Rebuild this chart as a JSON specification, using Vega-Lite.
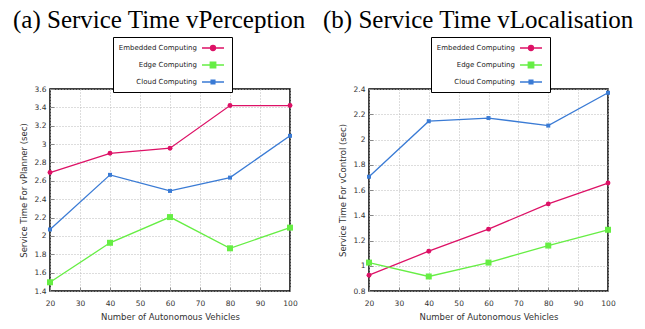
{
  "$schema": "https://vega.github.io/schema/vega-lite/v6.json",
  "padding": {"left": 12, "top": 6, "right": 4, "bottom": 2},
  "background": "white",
  "datasets": {
    "perception": [
      {"vehicles": 20, "series": "Embedded Computing", "time": 2.69},
      {"vehicles": 40, "series": "Embedded Computing", "time": 2.90},
      {"vehicles": 60, "series": "Embedded Computing", "time": 2.955},
      {"vehicles": 80, "series": "Embedded Computing", "time": 3.42},
      {"vehicles": 100, "series": "Embedded Computing", "time": 3.42},
      {"vehicles": 20, "series": "Edge Computing", "time": 1.495},
      {"vehicles": 40, "series": "Edge Computing", "time": 1.925},
      {"vehicles": 60, "series": "Edge Computing", "time": 2.205},
      {"vehicles": 80, "series": "Edge Computing", "time": 1.865},
      {"vehicles": 100, "series": "Edge Computing", "time": 2.09},
      {"vehicles": 20, "series": "Cloud Computing", "time": 2.07},
      {"vehicles": 40, "series": "Cloud Computing", "time": 2.665},
      {"vehicles": 60, "series": "Cloud Computing", "time": 2.49},
      {"vehicles": 80, "series": "Cloud Computing", "time": 2.635},
      {"vehicles": 100, "series": "Cloud Computing", "time": 3.09}
    ],
    "localisation": [
      {"vehicles": 20, "series": "Embedded Computing", "time": 0.925},
      {"vehicles": 40, "series": "Embedded Computing", "time": 1.115},
      {"vehicles": 60, "series": "Embedded Computing", "time": 1.29},
      {"vehicles": 80, "series": "Embedded Computing", "time": 1.49},
      {"vehicles": 100, "series": "Embedded Computing", "time": 1.655},
      {"vehicles": 20, "series": "Edge Computing", "time": 1.025},
      {"vehicles": 40, "series": "Edge Computing", "time": 0.915},
      {"vehicles": 60, "series": "Edge Computing", "time": 1.025},
      {"vehicles": 80, "series": "Edge Computing", "time": 1.16},
      {"vehicles": 100, "series": "Edge Computing", "time": 1.285},
      {"vehicles": 20, "series": "Cloud Computing", "time": 1.705},
      {"vehicles": 40, "series": "Cloud Computing", "time": 2.145},
      {"vehicles": 60, "series": "Cloud Computing", "time": 2.17},
      {"vehicles": 80, "series": "Cloud Computing", "time": 2.11},
      {"vehicles": 100, "series": "Cloud Computing", "time": 2.37}
    ]
  },
  "config": {
    "view": {"stroke": "black", "strokeWidth": 1.5},
    "axis": {
      "domain": false,
      "grid": true,
      "gridColor": "#bbbbbb",
      "gridDash": [1, 2],
      "gridWidth": 1,
      "tickColor": "#888888",
      "tickSize": -4,
      "labelFlush": false,
      "labelFont": "DejaVu Sans",
      "labelFontSize": 7.5,
      "labelColor": "#333333",
      "titleFont": "DejaVu Sans",
      "titleFontSize": 8.5,
      "titleFontWeight": "normal",
      "titleColor": "#333333"
    },
    "title": {
      "font": "Liberation Serif",
      "fontSize": 25,
      "fontWeight": "normal",
      "color": "black",
      "anchor": "start",
      "frame": "group"
    },
    "legend": {
      "orient": "none",
      "legendY": -52,
      "direction": "vertical",
      "title": null,
      "strokeColor": "black",
      "fillColor": "white",
      "padding": 5,
      "labelFont": "DejaVu Sans",
      "labelFontSize": 7,
      "labelColor": "#222222",
      "labelAlign": "right",
      "labelOffset": -22,
      "symbolOffset": 89,
      "symbolSize": 100,
      "rowPadding": 5,
      "symbolStrokeWidth": 1.3
    }
  },
  "resolve": {"scale": {"color": "independent"}},
  "bounds": "flush",
  "spacing": 79,
  "hconcat": [
    {
      "width": 240,
      "height": 202,
      "title": {"text": "(a) Service Time vPerception", "offset": 4, "dx": -37},
      "data": {"name": "perception"},
      "encoding": {
        "x": {"field": "vehicles", "type": "quantitative", "scale": {"domain": [20, 100], "nice": false}, "axis": {"values": [20, 30, 40, 50, 60, 70, 80, 90, 100], "title": "Number of Autonomous Vehicles", "labelPadding": 12, "titlePadding": 6}},
        "y": {"field": "time", "type": "quantitative", "scale": {"domain": [1.4, 3.6], "nice": false, "zero": false}, "axis": {"values": [1.4, 1.6, 1.8, 2, 2.2, 2.4, 2.6, 2.8, 3, 3.2, 3.4, 3.6], "format": "~g", "title": "Service Time For vPlanner (sec)", "labelPadding": 8, "titlePadding": 6}}
      },
      "layer": [
        {
          "mark": {"type": "line", "strokeWidth": 1.3},
          "encoding": {
            "color": {
              "field": "series", "type": "nominal",
              "scale": {"domain": ["Embedded Computing", "Edge Computing", "Cloud Computing"], "range": ["#dd1166", "#66ee44", "#3a7bd5"]},
              "legend": {
                "legendX": 63,
                "encode": {
                  "symbols": {
                    "update": {
                      "shape": {"signal": "datum.value === 'Embedded Computing' ? 'M-2.2,0H2.2M0.5,0A0.5,0.5 0 1,1 -0.5,0A0.5,0.5 0 1,1 0.5,0Z' : datum.value === 'Edge Computing' ? 'M-2.2,0H2.2M-0.55,-0.55H0.55V0.55H-0.55Z' : 'M-2.2,0H2.2M-0.38,-0.38H0.38V0.38H-0.38Z'"},
                      "fill": {"signal": "datum.value === 'Embedded Computing' ? '#dd1166' : datum.value === 'Edge Computing' ? '#66ee44' : '#3a7bd5'"},
                      "stroke": {"signal": "datum.value === 'Embedded Computing' ? '#dd1166' : datum.value === 'Edge Computing' ? '#66ee44' : '#3a7bd5'"},
                      "strokeWidth": {"value": 1.3},
                      "opacity": {"value": 1},
                      "fillOpacity": {"value": 1}
                    }
                  }
                }
              }
            }
          }
        },
        {
          "transform": [{"filter": "datum.series === 'Embedded Computing'"}],
          "mark": {"type": "point", "filled": true, "opacity": 1, "shape": "circle", "size": 24, "color": "#dd1166"}
        },
        {
          "transform": [{"filter": "datum.series === 'Edge Computing'"}],
          "mark": {"type": "point", "filled": true, "opacity": 1, "shape": "square", "size": 36, "color": "#66ee44"}
        },
        {
          "transform": [{"filter": "datum.series === 'Cloud Computing'"}],
          "mark": {"type": "point", "filled": true, "opacity": 1, "shape": "square", "size": 16, "color": "#3a7bd5"}
        }
      ]
    },
    {
      "width": 239,
      "height": 202,
      "title": {"text": "(b) Service Time vLocalisation", "offset": 4, "dx": -46},
      "data": {"name": "localisation"},
      "encoding": {
        "x": {"field": "vehicles", "type": "quantitative", "scale": {"domain": [20, 100], "nice": false}, "axis": {"values": [20, 30, 40, 50, 60, 70, 80, 90, 100], "title": "Number of Autonomous Vehicles", "labelPadding": 12, "titlePadding": 6}},
        "y": {"field": "time", "type": "quantitative", "scale": {"domain": [0.8, 2.4], "nice": false, "zero": false}, "axis": {"values": [0.8, 1, 1.2, 1.4, 1.6, 1.8, 2, 2.2, 2.4], "format": "~g", "title": "Service Time For vControl (sec)", "labelPadding": 8, "titlePadding": 6}}
      },
      "layer": [
        {
          "mark": {"type": "line", "strokeWidth": 1.3},
          "encoding": {
            "color": {
              "field": "series", "type": "nominal",
              "scale": {"domain": ["Embedded Computing", "Edge Computing", "Cloud Computing"], "range": ["#dd1166", "#66ee44", "#3a7bd5"]},
              "legend": {
                "legendX": 62,
                "encode": {
                  "symbols": {
                    "update": {
                      "shape": {"signal": "datum.value === 'Embedded Computing' ? 'M-2.2,0H2.2M0.5,0A0.5,0.5 0 1,1 -0.5,0A0.5,0.5 0 1,1 0.5,0Z' : datum.value === 'Edge Computing' ? 'M-2.2,0H2.2M-0.55,-0.55H0.55V0.55H-0.55Z' : 'M-2.2,0H2.2M-0.38,-0.38H0.38V0.38H-0.38Z'"},
                      "fill": {"signal": "datum.value === 'Embedded Computing' ? '#dd1166' : datum.value === 'Edge Computing' ? '#66ee44' : '#3a7bd5'"},
                      "stroke": {"signal": "datum.value === 'Embedded Computing' ? '#dd1166' : datum.value === 'Edge Computing' ? '#66ee44' : '#3a7bd5'"},
                      "strokeWidth": {"value": 1.3},
                      "opacity": {"value": 1},
                      "fillOpacity": {"value": 1}
                    }
                  }
                }
              }
            }
          }
        },
        {
          "transform": [{"filter": "datum.series === 'Embedded Computing'"}],
          "mark": {"type": "point", "filled": true, "opacity": 1, "shape": "circle", "size": 24, "color": "#dd1166"}
        },
        {
          "transform": [{"filter": "datum.series === 'Edge Computing'"}],
          "mark": {"type": "point", "filled": true, "opacity": 1, "shape": "square", "size": 36, "color": "#66ee44"}
        },
        {
          "transform": [{"filter": "datum.series === 'Cloud Computing'"}],
          "mark": {"type": "point", "filled": true, "opacity": 1, "shape": "square", "size": 16, "color": "#3a7bd5"}
        }
      ]
    }
  ]
}
